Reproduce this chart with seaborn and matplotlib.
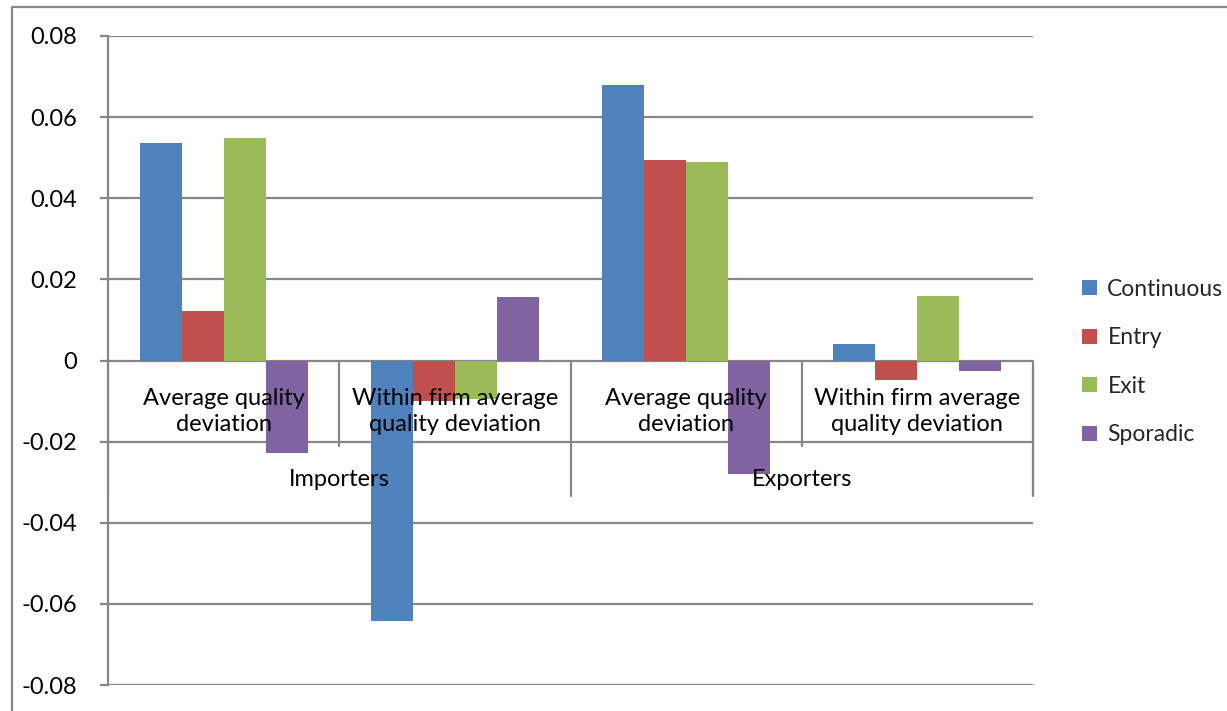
import matplotlib
matplotlib.use("Agg")
import matplotlib.pyplot as plt
import seaborn as sns
import pandas as pd
import numpy as np
from matplotlib.patches import Patch
from matplotlib.lines import Line2D

categories = ["Average quality\ndeviation", "Within firm average\nquality deviation",
              "Average quality\ndeviation", "Within firm average\nquality deviation"]
groups = ["Importers", "Exporters"]
series = ["Continuous", "Entry", "Exit", "Sporadic"]
continuous = [0.0536, -0.0642, 0.0679, 0.0040]
entry = [0.0123, -0.0099, 0.0494, -0.0047]
exit_ = [0.0548, -0.0096, 0.0490, 0.0160]
sporadic = [-0.0227, 0.0156, -0.0281, -0.0027]
colors = ["#4F81BD", "#C0504D", "#9BBB59", "#8064A2"]
yticks = [-0.08, -0.06, -0.04, -0.02, 0, 0.02, 0.04, 0.06, 0.08]

rows = []
for s, vals in zip(series, [continuous, entry, exit_, sporadic]):
    for i, v in enumerate(vals):
        rows.append({"pos": f"c{i}", "series": s, "value": v})
df = pd.DataFrame(rows)

sns.set_theme(style="white")
plt.rcParams['font.family'] = ['Lato', 'DejaVu Sans']

fig = plt.figure(figsize=(12.27, 7.11), dpi=100)
ax = fig.add_axes([108/1227, 1-685/711, (1033-108)/1227, (685-36)/711])

sns.barplot(data=df, x="pos", y="value", hue="series", palette=colors,
            width=0.727, gap=0, ax=ax, legend=False, saturation=1,
            order=[f"c{i}" for i in range(4)], hue_order=series, zorder=3,
            linewidth=0, edgecolor="none")

ax.set_ylim(-0.08, 0.08)
ax.set_xlim(-0.5, 3.5)
ax.set_yticks(yticks)
ax.set_yticklabels(["0" if v == 0 else f"{v:.2f}" for v in yticks], fontsize=17)
ax.set_xticks([])
ax.set_xlabel("")
ax.set_ylabel("")
grid_c = "#878787"
for v in yticks:
    ax.axhline(v, color=grid_c, lw=1.6, zorder=1)
for sp in ["top", "right", "bottom"]:
    ax.spines[sp].set_visible(False)
ax.spines["left"].set_color(grid_c)
ax.spines["left"].set_linewidth(1.6)
ax.tick_params(axis="y", length=6, width=1.6, color=grid_c, pad=16, left=True, labelcolor="black")

# multi-level category axis
for x, ylow in [(0.5, -0.021), (1.5, -0.0333), (2.5, -0.021), (3.5, -0.0333)]:
    ax.plot([x, x], [0, ylow], color=grid_c, lw=1.6, zorder=2, clip_on=False)
ax.plot([-0.5, -0.5], [0, -0.0333], color=grid_c, lw=1.6, zorder=2)
for i, c in enumerate(categories):
    ax.text(i, -0.0126, c, ha="center", va="center", fontsize=17, zorder=5,
            linespacing=1.25, color="black")
for j, g in enumerate(groups):
    ax.text(0.5 + 2*j, -0.0293, g, ha="center", va="center", fontsize=17, zorder=5,
            color="black")

# legend
handles = [Patch(facecolor=c, edgecolor="none") for c in colors]
fig.legend(handles, series, loc="center left", bbox_to_anchor=(1073/1227, 1-362/711),
           frameon=False, fontsize=16.5, handlelength=0.65, handleheight=0.65,
           handletextpad=0.45, labelspacing=1.2, borderaxespad=0)

# outer chart border
fig.add_artist(Line2D([12/1227, 12/1227, 1.0], [0, 1-7/711, 1-7/711],
                      transform=fig.transFigure, color=grid_c, lw=1.6))

fig.savefig("out.png", dpi=100)
